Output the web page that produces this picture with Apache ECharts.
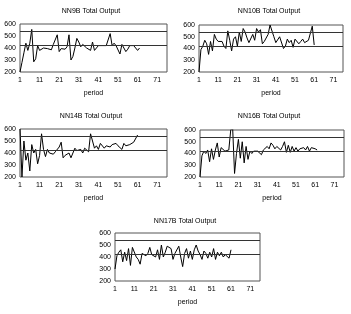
<!DOCTYPE html>
<html><head><meta charset="utf-8">
<script src="https://cdn.jsdelivr.net/npm/echarts@6/dist/echarts.min.js"></script>
<style>html,body{margin:0;padding:0;background:#fff}#c{width:351px;height:314px}</style>
</head><body><div id="c"></div>
<script>
const titles = ["NN9B Total Output","NN10B Total Output","NN14B Total Output","NN16B Total Output","NN17B Total Output"];
const periods = Array.from({length:76},(_,i)=>String(i+1));
const yTicks = [200,300,400,500,600];
const refUpper = 537;
const refLower = 420;
const nn9b = [200,280,360,440,380,440,555,285,310,420,380,395,400,400,395,390,385,430,420,510,370,395,410,390,410,510,300,330,400,480,450,410,430,440,400,390,380,450,380,390,420,430,420,410,420,420,520,420,440,420,430,350,430,420,370,390,420,430,420,430,380,400];
const nn10b = [200,390,420,470,440,350,460,380,520,480,460,450,460,420,400,550,470,380,480,500,420,540,460,570,540,490,450,440,520,470,570,540,560,440,460,450,520,600,590,500,450,440,500,490,400,420,480,450,470,410,480,470,440,460,480,450,460,470,460,590,430];
const nn14b = [600,200,500,340,400,250,470,400,430,310,380,560,430,370,430,400,410,390,410,400,450,490,360,380,370,400,360,400,440,420,410,430,400,440,430,410,560,500,440,460,430,480,470,440,460,470,450,470,460,480,460,470,430,480,460,470,470,460,490,480,550];
const nn16b = [200,380,420,400,430,330,440,350,430,490,370,450,440,420,420,430,600,620,230,400,520,360,500,320,460,350,420,400,420,410,420,420,390,430,420,460,440,490,470,440,460,470,430,460,500,410,470,410,460,420,450,420,440,430,450,430,460,420,450,440,440,430];
const nn17b = [300,410,440,460,360,440,370,470,330,480,470,400,380,340,430,420,410,430,480,420,420,400,460,380,500,400,440,490,500,470,380,430,420,490,400,320,430,470,390,450,380,460,500,450,420,380,450,430,390,440,400,470,380,440,410,440,400,420,430,390,460];
const seriesData = [nn9b,nn10b,nn14b,nn16b,nn17b];
// layout: [left, top, width, height, titleCenterX, titleTop]
const layout = [
  [20,24,147,48,86,3],
  [199,25,144,47,264,3],
  [20,129,147,48,86,108],
  [200,130,144,47,264,108],
  [115,233,145,48,180,213]
];
const font = 'Liberation Sans, Arial, sans-serif';
const chart = echarts.init(document.getElementById('c'));
const opt = {animation:false, title:[], grid:[], xAxis:[], yAxis:[], series:[]};
layout.forEach((L,i)=>{
  opt.title.push({text:titles[i], left:L[4], top:L[5], textAlign:'center',
    textStyle:{fontFamily:font,fontSize:7,fontWeight:'normal',color:'#000'}});
  opt.grid.push({left:L[0],top:L[1],width:L[2],height:L[3],show:true,borderColor:'#555',borderWidth:1,containLabel:false});
  opt.xAxis.push({type:'category',gridIndex:i,data:periods,boundaryGap:false,
    name:'period',nameLocation:'middle',nameGap:18,
    nameTextStyle:{fontFamily:font,fontSize:7,color:'#000'},
    axisLine:{show:false},axisTick:{show:false},
    axisLabel:{interval:9,fontFamily:font,fontSize:7,color:'#000',margin:5},
    splitLine:{show:false}});
  opt.yAxis.push({type:'value',gridIndex:i,min:yTicks[0],max:yTicks[yTicks.length-1],interval:100,
    axisLine:{show:false},axisTick:{show:false},
    axisLabel:{fontFamily:font,fontSize:7,color:'#000',margin:4},
    splitLine:{show:false}});
  opt.series.push({type:'line',xAxisIndex:i,yAxisIndex:i,data:seriesData[i],
    showSymbol:false,symbol:'none',clip:true,
    lineStyle:{color:'#000',width:1},
    markLine:{silent:true,symbol:'none',label:{show:false},
      lineStyle:{color:'#333',width:1,type:'solid'},
      data:[{yAxis:refUpper},{yAxis:refLower}]}});
});
chart.setOption(opt);
</script></body></html>
